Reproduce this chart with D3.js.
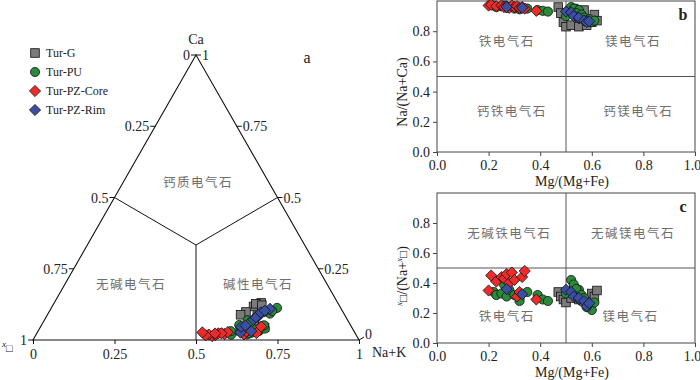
<!DOCTYPE html>
<html>
<head>
<meta charset="utf-8">
<script src="https://cdn.jsdelivr.net/npm/d3@7"></script>
<style>
  body { margin: 0; background: #fff; }
  svg { display: block; font-family: "Times New Roman", "Liberation Serif", serif; }
  svg text { fill: #222; }
  .zh { font-family: "Noto Sans CJK SC", sans-serif; fill: #6f6f6f !important; font-size: 12.5px; letter-spacing: 1.5px; }
</style>
</head>
<body>
<script>
// Mg/(Mg+Fe), Na/(Na+Ca), x□/(Na+x□) for each sample group
var gMg  = [0.47, 0.48, 0.49, 0.50, 0.52, 0.53, 0.55, 0.57, 0.58, 0.60, 0.61, 0.62];
var gNa  = [0.96, 0.92, 0.86, 0.83, 0.84, 0.95, 0.83, 0.94, 0.84, 0.86, 0.91, 0.87];
var gVac = [0.34, 0.31, 0.29, 0.27, 0.30, 0.36, 0.29, 0.28, 0.27, 0.33, 0.31, 0.35];

var puMg  = [0.22, 0.23, 0.25, 0.27, 0.28, 0.26, 0.30, 0.32, 0.32, 0.35, 0.39, 0.41, 0.43,
             0.50, 0.52, 0.53, 0.55, 0.54, 0.56, 0.57, 0.59, 0.60, 0.58, 0.61];
var puNa  = [0.97, 0.96, 0.965, 0.955, 0.96, 0.97, 0.95, 0.955, 0.945, 0.95, 0.94, 0.935, 0.93,
             0.90, 0.96, 0.95, 0.94, 0.92, 0.91, 0.89, 0.88, 0.86, 0.87, 0.87];
var puVac = [0.34, 0.32, 0.33, 0.31, 0.355, 0.39, 0.32, 0.30, 0.28, 0.34, 0.32, 0.29, 0.28,
             0.33, 0.42, 0.39, 0.355, 0.36, 0.32, 0.30, 0.25, 0.22, 0.24, 0.27];

var coreMg  = [0.20, 0.21, 0.23, 0.25, 0.26, 0.27, 0.28, 0.29, 0.30, 0.31, 0.32, 0.33, 0.34, 0.385];
var coreNa  = [0.97, 0.975, 0.965, 0.97, 0.96, 0.965, 0.955, 0.97, 0.96, 0.965, 0.955, 0.96, 0.95, 0.935];
var coreVac = [0.35, 0.45, 0.41, 0.44, 0.43, 0.46, 0.40, 0.47, 0.42, 0.31, 0.34, 0.44, 0.48, 0.29];

var rimMg  = [0.27, 0.33, 0.50, 0.52, 0.53, 0.55, 0.55, 0.57, 0.58, 0.59];
var rimNa  = [0.96, 0.955, 0.93, 0.925, 0.90, 0.885, 0.89, 0.87, 0.86, 0.865];
var rimVac = [0.36, 0.325, 0.355, 0.34, 0.31, 0.29, 0.30, 0.28, 0.245, 0.265];

var groupNames = ["Tur-G", "Tur-PU", "Tur-PZ-Core", "Tur-PZ-Rim"];
var triTicks = [0, 0.25, 0.5, 0.75, 1];
var rectTicksX = [0, 0.2, 0.4, 0.6, 0.8, 1.0];
var rectTicksY = [0, 0.2, 0.4, 0.6, 0.8];

var groups = [
  {name: groupNames[0], mg: gMg, na: gNa, vac: gVac, fill: "#7b7b7b", shape: "square"},
  {name: groupNames[1], mg: puMg, na: puNa, vac: puVac, fill: "#2a8a3c", shape: "circle"},
  {name: groupNames[2], mg: coreMg, na: coreNa, vac: coreVac, fill: "#ee2a2a", shape: "diamond"},
  {name: groupNames[3], mg: rimMg, na: rimNa, vac: rimVac, fill: "#3a4ea2", shape: "diamond"}
];

// sample -> ternary fractions (Ca, Na+K, x□)
groups.forEach(function(g) {
  g.pts = g.mg.map(function(m, i) {
    var b = g.na[i], c = g.vac[i];
    var na = 1 / (1 / b + c / (1 - c));
    return {mg: m, b: b, c: c, na: na, ca: na * (1 - b) / b, x: na * c / (1 - c)};
  });
});

var svg = d3.select("body").append("svg").attr("width", 700).attr("height", 380);

function marker(sel, g) {
  if (g.shape == "circle") {
    sel.append("circle").attr("r", 4.6);
  } else if (g.shape == "square") {
    sel.append("rect").attr("x", -4.3).attr("y", -4.3).attr("width", 8.6).attr("height", 8.6);
  } else {
    sel.append("path").attr("d", "M0,-5.6L5.6,0L0,5.6L-5.6,0Z");
  }
  sel.selectAll("*").attr("fill", g.fill).attr("stroke", "#111").attr("stroke-width", 0.8);
}

/* ---------- ternary (a) ---------- */
var tx = d3.scaleLinear().domain([0, 1]).range([33, 359]);
var ty = d3.scaleLinear().domain([0, 1]).range([340, 55]);
function tpos(ca, na) { return [tx(na + ca / 2), ty(ca)]; }

var tri = svg.append("g");
var A = tpos(1, 0), L = tpos(0, 0), R = tpos(0, 1);
tri.append("path").attr("d", "M" + A + "L" + L + "L" + R + "Z")
  .attr("fill", "none").attr("stroke", "#111").attr("stroke-width", 1.1);

// field boundaries
var cen = tpos(1 / 3, 1 / 3);
tri.append("path")
  .attr("d", "M" + tpos(0.5, 0) + "L" + cen + "L" + tpos(0.5, 0.5) + "M" + cen + "L" + tpos(0, 0.5))
  .attr("fill", "none").attr("stroke", "#111").attr("stroke-width", 1);

// bottom axis Na+K
tri.append("g").attr("transform", "translate(0," + ty(0) + ")")
  .call(d3.axisBottom(tx).tickValues(triTicks).tickSize(4).tickPadding(5).tickFormat(d3.format("")))
  .call(function(g) { g.select(".domain").remove(); })
  .call(function(g) { g.selectAll("text").attr("font-size", 14); })
  .call(function(g) { g.selectAll("line").attr("stroke", "#111"); })
  .attr("font-family", null);

// left edge: x□ (0 at top, 1 at bottom)
triTicks.forEach(function(v) {
  var p = tpos(1 - v, 0);
  tri.append("line").attr("x1", p[0]).attr("y1", p[1]).attr("x2", p[0] - 5).attr("y2", p[1]).attr("stroke", "#111");
  tri.append("text").attr("x", p[0] - 6).attr("y", p[1] + 5).attr("text-anchor", "end")
    .attr("font-size", 14).text(d3.format("")(v));
});
// right edge: Ca (1 at top, 0 at bottom)
triTicks.forEach(function(v) {
  var p = tpos(v, 1 - v);
  tri.append("line").attr("x1", p[0]).attr("y1", p[1]).attr("x2", p[0] + 5).attr("y2", p[1] - (v == 0 ? 3 : 0)).attr("stroke", "#111");
  tri.append("text").attr("x", p[0] + 6).attr("y", p[1] + (v == 0 ? -1 : 5))
    .attr("font-size", 14).text(d3.format("")(v));
});

tri.append("text").attr("x", A[0]).attr("y", 44).attr("text-anchor", "middle").attr("font-size", 14).text("Ca");
tri.append("text").attr("x", 372).attr("y", 357).attr("font-size", 14).text("Na+K");
var xl = tri.append("text").attr("x", 2).attr("y", 352).attr("font-size", 13);
xl.append("tspan").attr("font-style", "italic").attr("font-size", 9).attr("dy", -5).text("x");
xl.append("tspan").attr("dy", 5).attr("font-size", 11).text("□");
tri.append("text").attr("x", 307).attr("y", 63).attr("text-anchor", "middle").attr("font-size", 16).text("a");

tri.append("text").attr("class", "zh").attr("x", 198).attr("y", 187).attr("text-anchor", "middle").text("钙质电气石");
tri.append("text").attr("class", "zh").attr("x", 131).attr("y", 289).attr("text-anchor", "middle").text("无碱电气石");
tri.append("text").attr("class", "zh").attr("x", 258).attr("y", 289).attr("text-anchor", "middle").text("碱性电气石");

groups.forEach(function(g) {
  tri.append("g").selectAll("g").data(g.pts).join("g")
    .attr("transform", function(d) { return "translate(" + tpos(d.ca, d.na) + ")"; })
    .call(marker, g);
});

// legend
var leg = svg.append("g");
groups.forEach(function(g, i) {
  var y = 53 + i * 19;
  leg.append("g").attr("transform", "translate(35," + y + ")").call(marker, g);
  leg.append("text").attr("x", 46).attr("y", y + 4).attr("font-size", 12).text(g.name);
});

/* ---------- rectangular plots (b, c) ---------- */
var x = d3.scaleLinear().domain([0, 1]).range([437, 695]);

function panel(y, key, letter, labels, titleY, yTitle) {
  var p = svg.append("g");
  var y0 = y.range()[0], y1 = y.range()[1];
  p.append("rect").attr("x", x(0)).attr("y", y1).attr("width", x(1) - x(0)).attr("height", y0 - y1)
    .attr("fill", "none").attr("stroke", "#444").attr("stroke-width", 1);
  p.append("line").attr("x1", x(0)).attr("x2", x(1)).attr("y1", y(0.5)).attr("y2", y(0.5)).attr("stroke", "#555");
  p.append("line").attr("x1", x(0.5)).attr("x2", x(0.5)).attr("y1", y0).attr("y2", y1).attr("stroke", "#555");

  p.append("g").attr("transform", "translate(0," + y0 + ")")
    .call(d3.axisBottom(x).tickValues(rectTicksX).tickSize(4).tickSizeOuter(0).tickPadding(4).tickFormat(d3.format(".1f")))
    .call(function(g) { g.select(".domain").remove(); })
    .call(function(g) { g.selectAll(".tick:last-of-type text").attr("dx", -3); })
    .attr("font-family", null);
  p.append("g").attr("transform", "translate(" + x(0) + ",0)")
    .call(d3.axisLeft(y).tickValues(rectTicksY).tickSize(4).tickSizeOuter(0).tickPadding(3).tickFormat(d3.format(".1f")))
    .call(function(g) { g.select(".domain").remove(); })
    .attr("font-family", null);
  p.selectAll(".tick text").attr("font-size", 14);
  p.selectAll(".tick line").attr("stroke", "#444");

  p.append("text").attr("x", x(0.5) + 6).attr("y", y0 + 34).attr("text-anchor", "middle").attr("font-size", 14).text("Mg/(Mg+Fe)");
  yTitle(p.append("text").attr("transform", "translate(407," + titleY + ") rotate(-90)")
    .attr("text-anchor", "middle").attr("font-size", 14));
  p.append("text").attr("x", 683).attr("y", y1 + 19).attr("text-anchor", "middle").attr("font-size", 16).attr("font-weight", "bold").text(letter);

  labels.forEach(function(l) {
    p.append("text").attr("class", "zh").attr("x", x(l[0])).attr("y", y(l[1])).attr("text-anchor", "middle").text(l[2]);
  });

  groups.forEach(function(g) {
    p.append("g").selectAll("g").data(g.pts).join("g")
      .attr("transform", function(d) { return "translate(" + x(d.mg) + "," + y(d[key]) + ")"; })
      .call(marker, g);
  });
}

var yB = d3.scaleLinear().domain([0, 1]).range([152, 1]);
panel(yB, "b", "b", [
  [0.27, 0.70, "铁电气石"], [0.76, 0.70, "镁电气石"],
  [0.29, 0.24, "钙铁电气石"], [0.78, 0.24, "钙镁电气石"]
], 92, function(t) { t.text("Na/(Na+Ca)"); });

var yC = d3.scaleLinear().domain([0, 1]).range([343, 193]);
panel(yC, "c", "c", [
  [0.28, 0.70, "无碱铁电气石"], [0.76, 0.70, "无碱镁电气石"],
  [0.27, 0.15, "铁电气石"], [0.75, 0.15, "镁电气石"]
], 276, function(t) {
  t.append("tspan").attr("font-style", "italic").attr("font-size", 9).attr("dy", -5).text("x");
  t.append("tspan").attr("dy", 5).attr("font-size", 12).text("□");
  t.append("tspan").text("/(Na+");
  t.append("tspan").attr("font-style", "italic").attr("font-size", 9).attr("dy", -5).text("x");
  t.append("tspan").attr("dy", 5).attr("font-size", 12).text("□");
  t.append("tspan").text(")");
});
</script>
</body>
</html>
